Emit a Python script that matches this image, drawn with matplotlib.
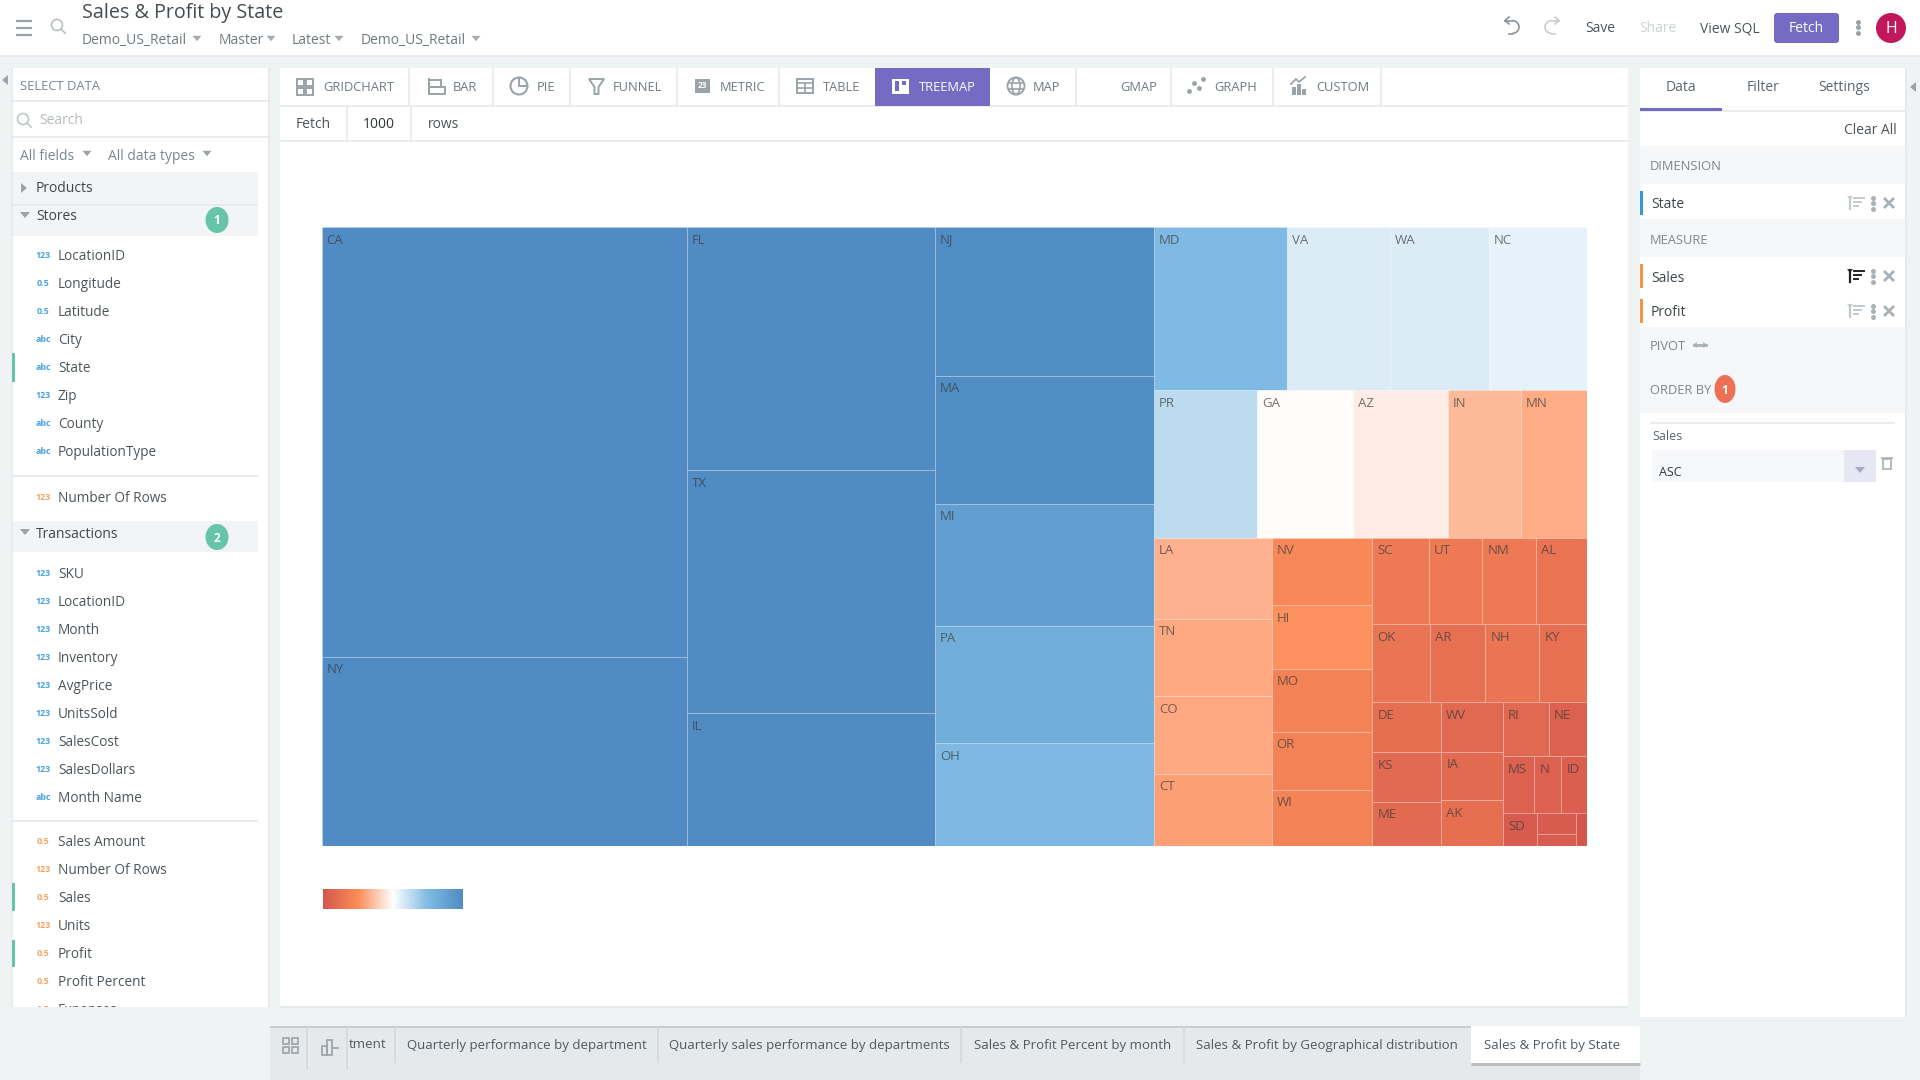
"""Sales & Profit by State treemap, inside the BI tool's chart builder screen."""

import matplotlib

matplotlib.use("Agg")
import matplotlib.pyplot as plt
import numpy as np
from matplotlib.colors import LinearSegmentedColormap, Normalize
from matplotlib.patches import Arc, Circle, Ellipse, FancyBboxPatch, Polygon, Rectangle

plt.rcParams.update({
    "font.family": ["Open Sans", "DejaVu Sans"],
    "font.size": 10,
})

# Treemap data: sales sets the area, profit the colour. Last three states have no visible label.
STATES = ["CA", "NY", "FL", "TX", "IL", "NJ", "MA", "MI", "PA", "OH",
          "MD", "VA", "WA", "NC", "PR", "GA", "AZ", "IN", "MN",
          "LA", "TN", "CO", "CT", "NV", "HI", "MO", "OR", "WI",
          "SC", "UT", "NM", "AL", "OK", "AR", "NH", "KY",
          "DE", "KS", "ME", "WV", "IA", "AK", "RI", "NE", "MS", "N", "ID", "SD",
          "_a", "_b", "_c"]
SALES = [1568.4, 692.4, 603.4, 604.1, 330.5, 326.3, 280.3, 267.2, 256.9, 225.8,
         217.3, 167.4, 161.4, 159.3, 151.9, 141.6, 140.1, 107.7, 96.9,
         95.7, 91.2, 91.2, 85.4, 67.9, 63.9, 63.5, 58.3, 57.1,
         49.4, 46.0, 46.3, 44.2, 45.4, 43.1, 42.3, 37.1,
         34.4, 34.0, 30.9, 30.4, 30.3, 28.5, 24.8, 20.2, 17.6, 15.3, 14.4, 11.3,
         8.0, 5.0, 3.5]
PROFIT = [100, 100, 100, 100, 100, 99, 99, 90, 82, 76,
          75, 57, 57, 55, 63, 49, 46, 35, 32,
          33, 31, 31, 29, 23, 26, 20, 20, 20,
          16, 16, 16, 13, 14, 12, 14, 12,
          11, 9, 9, 8, 9, 11, 8, 5, 5, 5, 4, 2,
          2, 2, 0]

# how the squarified layout nested the states; each level flips the split direction
TREE = [["CA", "NY"], ["FL", "TX", "IL"], ["NJ", "MA", "MI", "PA", "OH"],
        [["MD", "VA", "WA", "NC"], ["PR", "GA", "AZ", "IN", "MN"],
         [["LA", "TN", "CO", "CT"], ["NV", "HI", "MO", "OR", "WI"],
          [["SC", "UT", "NM", "AL"], ["OK", "AR", "NH", "KY"],
           [["DE", "KS", "ME"], ["WV", "IA", "AK"],
            [["RI", "NE"], ["MS", "N", "ID"], ["SD", ["_a", "_b"], "_c"]]]]]]]

# UI text
BREADCRUMBS = ["Demo_US_Retail", "Master", "Latest", "Demo_US_Retail"]
CHART_TYPES = ["GRIDCHART", "BAR", "PIE", "FUNNEL", "METRIC", "TABLE", "TREEMAP", "MAP", "GMAP", "GRAPH", "CUSTOM"]
STORE_FIELDS = ["LocationID", "Longitude", "Latitude", "City", "State", "Zip", "County", "PopulationType"]
STORE_KINDS = ["123", "0.5", "0.5", "abc", "abc", "123", "abc", "abc"]
TRANS_FIELDS = ["SKU", "LocationID", "Month", "Inventory", "AvgPrice", "UnitsSold", "SalesCost", "SalesDollars", "Month Name"]
TRANS_KINDS = ["123"] * 8 + ["abc"]
MEASURE_FIELDS = ["Sales Amount", "Number Of Rows", "Sales", "Units", "Profit", "Profit Percent", "Expenses"]
MEASURE_KINDS = ["0.5", "123", "0.5", "123", "0.5", "0.5", "0.5"]
TABS = ["tment", "Quarterly performance by department", "Quarterly sales performance by departments",
        "Sales & Profit Percent by month", "Sales & Profit by Geographical distribution", "Sales & Profit by State"]

BG = "#f0f3f4"
LINE = "#e6e9ea"
INK = "#4d5559"
GREY = "#7b878c"
ICON = "#9aa3a7"
BLUE = "#4aa3df"
ORANGE = "#f7a25e"
GREEN = "#66c4a8"
PURPLE = "#766bc4"

fig = plt.figure(figsize=(19.2, 10.8), dpi=100, facecolor=BG)
ui = fig.add_axes([0, 0, 1, 1])
ui.set_xlim(0, 1920)
ui.set_ylim(1080, 0)
ui.axis("off")


def box(x0, y0, x1, y1, color, z=1):
    ui.add_patch(Rectangle((x0, y0), x1 - x0, y1 - y0, fc=color, ec="none", zorder=z))


def hline(x0, x1, y, color=LINE, lw=1.2, z=2):
    ui.plot([x0, x1], [y, y], color=color, lw=lw, zorder=z, solid_capstyle="butt")


def vline(x, y0, y1, color=LINE, lw=1.2, z=2):
    ui.plot([x, x], [y0, y1], color=color, lw=lw, zorder=z, solid_capstyle="butt")


def label(x, y, s, size=10, color=INK, ha="left", z=5, **kw):
    # the +2 brings Open Sans onto the same visual centre as the app's font
    ui.text(x, y + 2, s, fontsize=size, color=color, ha=ha, va="center", zorder=z, **kw)


def caret(x, y, size=5, color=ICON, direction="down"):
    if direction == "down":
        pts = [(x - size, y - size * 0.6), (x + size, y - size * 0.6), (x, y + size * 0.6)]
    elif direction == "right":
        pts = [(x - size * 0.6, y - size), (x - size * 0.6, y + size), (x + size * 0.6, y)]
    else:
        pts = [(x + size * 0.6, y - size), (x + size * 0.6, y + size), (x - size * 0.6, y)]
    ui.add_patch(Polygon(pts, fc=color, ec="none", zorder=5))


def magnifier(x, y, r=5.5, color=ICON):
    ui.add_patch(Circle((x, y), r, fc="none", ec=color, lw=1.1, zorder=5))
    ui.plot([x + r * 0.7, x + r * 1.5], [y + r * 0.7, y + r * 1.5], color=color, lw=1.1, zorder=5)


def kebab(x, y, color=ICON, s=3.6):
    ui.scatter([x] * 3, [y - 5.5, y, y + 5.5], s=s ** 2, color=color, zorder=5, linewidths=0)


def field_icon(y, kind, color):
    # small stand-ins for the 123 / 0.5 / abc type glyphs
    label(43, y - 1, kind, size=6.4, color=color, ha="center", fontweight="bold")


def field_rows(names, kinds, y0, color=BLUE):
    for i, (name, kind) in enumerate(zip(names, kinds)):
        y = y0 + i * 28
        field_icon(y, kind, color)
        label(58, y, name, size=9.8, color=INK)


def sort_icon(x, y, color="#c3c9cc"):
    ui.plot([x - 7, x - 7], [y - 6, y + 6], color=color, lw=1.6, zorder=5)
    caret(x - 7, y - 5, size=3, color=color)
    for dy, w in zip((-5, -1, 3), (14, 10, 6)):
        ui.plot([x - 3, x - 3 + w * 0.7], [y + dy, y + dy], color=color, lw=1.4, zorder=5)


def cross(x, y, color="#a9b1b5"):
    ui.plot([x - 4, x + 4], [y - 4, y + 4], color=color, lw=2, zorder=5)
    ui.plot([x - 4, x + 4], [y + 4, y - 4], color=color, lw=2, zorder=5)


def turn_arrow(mirror, color):
    # undo arrow; mirror=True flips it about x=1532 for redo
    fx = (lambda v: 3064 - v) if mirror else (lambda v: v)
    ui.add_patch(Arc((fx(1512), 27), 14, 13, theta1=90 if mirror else -90, theta2=270 if mirror else 90,
                     ec=color, lw=1.2, zorder=5))
    ui.plot([fx(1505), fx(1512)], [20.5, 20.5], color=color, lw=1.2, zorder=5)
    ui.plot([fx(1509), fx(1512)], [33.5, 33.5], color=color, lw=1.2, zorder=5)
    ui.plot([fx(1509), fx(1505), fx(1509)], [17, 20.5, 24], color=color, lw=1.2, zorder=5)


# ------------------------------------------------------------------ panels
box(0, 0, 1920, 55, "white")
hline(0, 1920, 55.5)
box(11, 68, 268, 1007, "white")
box(280, 68, 1628, 1006, "white")
box(1640, 68, 1905, 1017, "white")
vline(268.5, 68, 1007)
vline(1905.5, 68, 1017)
hline(280, 1628, 1006.5)

# ------------------------------------------------------------------ header
for yy in (21, 28, 34.5):
    hline(16, 32, yy, color=ICON, lw=1.6, z=5)
magnifier(57, 25, color="#b4bbbe")
label(82, 11, "Sales & Profit by State", size=14.2, color="#454c50")
for x, s, cx in zip((82, 219, 292, 361), BREADCRUMBS, (197, 271, 339, 476)):
    label(x, 38.5, s, size=10, color="#6e7a80")
    caret(cx, 38.5, size=4.5, color="#a5adb1")

turn_arrow(False, "#8a9297")
turn_arrow(True, "#c8cdd0")

label(1585, 27, "Save", size=10)
label(1639, 27, "Share", size=10, color="#ced3d6")
label(1700, 27, "View SQL", size=10)
ui.add_patch(FancyBboxPatch((1776, 15), 61, 26, boxstyle="round,pad=2,rounding_size=3", fc=PURPLE, ec="none", zorder=3))
label(1806, 27, "Fetch", size=10, color="white", ha="center")
kebab(1858, 27)
ui.add_patch(Circle((1891, 28), 15, fc="#c2185b", ec="none", zorder=3))
label(1891, 27, "H", size=11.5, color="white", ha="center")

# ------------------------------------------------------------------ left panel
caret(5, 80, size=5, color=ICON, direction="left")
label(20, 85, "SELECT DATA", size=9.4, color=GREY)
hline(11, 268, 101)
magnifier(23, 119, color="#bcc3c6")
label(39, 119, "Search", size=10, color="#b5bcbf")
hline(11, 268, 137)
label(20, 154, "All fields", size=10, color=GREY)
caret(87, 153.5, size=4.5)
label(108, 154, "All data types", size=10, color=GREY)
caret(207, 153.5, size=4.5)

box(11, 172, 258, 236, "#f2f4f5")
hline(11, 258, 204.5, color="#e6e9ea")
caret(24, 188, size=5, direction="right")
label(36, 187, "Products", size=10, color="#3f464a")
caret(25, 215, size=5)
label(36, 215, "Stores", size=10, color="#3f464a")
field_rows(STORE_FIELDS, STORE_KINDS, 255)
hline(12, 258, 476)
field_icon(496, "123", ORANGE)
label(58, 496, "Number Of Rows", size=9.8)
box(12, 521, 258, 552, "#f2f4f5")
caret(25, 532, size=5)
label(36, 532, "Transactions", size=10, color="#3f464a")
field_rows(TRANS_FIELDS, TRANS_KINDS, 572)
hline(12, 258, 821)
field_rows(MEASURE_FIELDS, MEASURE_KINDS, 841, color=ORANGE)
vline(12, 68, 1007, color=LINE)
for cy, s in zip((220, 537), "12"):
    ui.add_patch(Ellipse((217, cy), 23, 26, fc=GREEN, ec="none", zorder=4))
    label(217, cy - 1, s, size=8.5, color="white", ha="center", fontweight="bold")
for y0, y1 in ((353, 382), (883, 911), (940, 967)):
    box(12, y0, 15, y1, GREEN, z=4)
box(0, 1007, 270, 1080, BG, z=8)

# ------------------------------------------------------------------ chart toolbar
hline(280, 1628, 106)
hline(280, 1628, 141)
for x in (409, 493, 570, 677, 779, 1076, 1171, 1273, 1381):
    vline(x, 68, 106)
for x in (346.5, 411):
    vline(x, 106, 141)
box(875, 68, 990, 106, PURPLE, z=3)
for x, s in zip((323, 453, 537, 613, 720, 823, 919, 1033, 1120, 1214, 1316), CHART_TYPES):
    label(x, 85.5, s, size=9.3, color="white" if s == "TREEMAP" else "#6f7b80")
label(296, 123, "Fetch", size=10)
label(363, 123, "1000", size=10, color="#2f3538")
label(428, 123, "rows", size=10)

# toolbar icons
for dx in (-8, 1):
    for dy in (-7, 2):
        ui.add_patch(Rectangle((305 + dx, 86 + dy), 7, 7, fc="none", ec=ICON, lw=1.4, zorder=5))
for yy, w in ((80, 12), (87, 16)):
    ui.add_patch(Rectangle((429, yy), w, 7, fc="none", ec=ICON, lw=1.4, zorder=5))
vline(429, 78, 95, color=ICON, lw=1.4, z=5)
ui.add_patch(Circle((519, 86), 8.5, fc="none", ec=ICON, lw=1.5, zorder=5))
ui.plot([519, 519, 527], [78, 86, 86], color=ICON, lw=1.4, zorder=5)
ui.add_patch(Polygon([(589, 79), (604, 79), (598.5, 87), (598.5, 94), (594.5, 94), (594.5, 87)], fc="none", ec=ICON, lw=1.4, zorder=5))
box(695, 79, 710, 93, ICON, z=5)
label(702.5, 84, "23", size=6, color="white", ha="center", z=6, fontweight="bold")
ui.add_patch(Rectangle((797, 79), 16, 14, fc="none", ec=ICON, lw=1.4, zorder=5))
hline(797, 813, 83, color=ICON, z=5)
hline(797, 813, 88, color=ICON, z=5)
vline(805, 83, 93, color=ICON, z=5)
box(892, 79, 909, 94, "white", z=5)
box(895, 81, 899, 91, PURPLE, z=6)
box(902, 81, 906, 85, PURPLE, z=6)
ui.add_patch(Circle((1016, 86), 8.5, fc="none", ec=ICON, lw=1.4, zorder=5))
ui.add_patch(Ellipse((1016, 86), 8, 17, fc="none", ec=ICON, lw=1.2, zorder=5))
hline(1008, 1024, 83, color=ICON, z=5)
hline(1008, 1024, 89, color=ICON, z=5)
ui.scatter([1189, 1194, 1199, 1203], [91, 83, 88, 79], s=12, color=ICON, linewidths=0, zorder=5)
ui.plot([1291, 1296, 1299, 1305], [84, 79, 82, 77], color=ICON, lw=1.3, zorder=5)
for x, h in zip((1292, 1297, 1302), (8, 11, 6)):
    box(x, 95 - h, x + 3.5, 95, ICON, z=5)

# ------------------------------------------------------------------ right panel
for x, s in zip((1681, 1763, 1844), ("Data", "Filter", "Settings")):
    label(x, 85.5, s, size=10, color="#5c666b", ha="center")
hline(1640, 1905, 111)
box(1640, 108, 1722, 111, PURPLE, z=3)
caret(1913, 87, size=5, direction="left")
label(1897, 128, "Clear All", size=10, ha="right")
box(1640, 146, 1905, 184, "#f5f7f8")
box(1640, 219, 1905, 257, "#f5f7f8")
box(1640, 327, 1905, 413, "#f5f7f8")
label(1650, 165, "DIMENSION", size=9.3, color=GREY)
label(1650, 238, "MEASURE", size=9.3, color=GREY)
label(1650, 345, "PIVOT", size=9.3, color=GREY)
label(1650, 389, "ORDER BY", size=9.3, color=GREY)
ui.plot([1694, 1706], [345, 345], color="#a9b1b5", lw=2, zorder=5)
caret(1695, 345, size=3, color="#a9b1b5", direction="left")
caret(1705, 345, size=3, color="#a9b1b5", direction="right")
ui.add_patch(Ellipse((1725, 389), 21, 28, fc="#ec6f56", ec="none", zorder=4))
label(1725, 388, "1", size=8.5, color="white", ha="center", fontweight="bold")

for y, s, bar, sort_col in ((203, "State", "#3498db", "#c3c9cc"), (276, "Sales", "#f0954a", "#222222"),
                            (311, "Profit", "#f0954a", "#c3c9cc")):
    box(1640, y - 12, 1643, y + 12, bar, z=4)
    label(1651, y, s, size=10, color="#3f464a")
    sort_icon(1857, y, color=sort_col)
    kebab(1873, y, color="#a9b1b5")
    cross(1889, y)

hline(1650, 1895, 423)
label(1652, 435, "Sales", size=9, color="#5c666b")
box(1652, 450, 1876, 482, "#f7f8fc")
box(1844, 450, 1876, 482, "#e6e7f2", z=2)
caret(1860, 470, size=5, color="#a7a8c4")
label(1659, 470, "ASC", size=9, color="#2f3538")
ui.add_patch(Rectangle((1883, 459), 8, 10, fc="none", ec="#a9b1b5", lw=1.2, zorder=5))
hline(1881, 1893, 458, color="#a9b1b5", z=5)

# ------------------------------------------------------------------ bottom tabs
box(270, 1026, 1640, 1080, "#e6e9ec", z=1)
hline(270, 1640, 1026.5, color="#c9cdcf", lw=1.4)
box(1471, 1026, 1640, 1063, "white", z=2)
hline(1471, 1640, 1064, color="#b9bdbf", lw=2)
for x in (307, 347):
    vline(x, 1026, 1070, color="#d5d9db")
for x in (395, 658, 961, 1184):
    vline(x, 1026, 1063, color="#d5d9db")
for x, s in zip((349, 407, 669, 974, 1196, 1484), TABS):
    label(x, 1043, s, size=9.56, color="#4f5a60")
for dx in (0, 9):
    for dy in (0, 9):
        ui.add_patch(Rectangle((283 + dx, 1038 + dy), 6, 6, fc="none", ec=ICON, lw=1.2, zorder=5))
ui.add_patch(Rectangle((322, 1046), 5, 9, fc="none", ec=ICON, lw=1.2, zorder=5))
ui.add_patch(Rectangle((327, 1040), 5, 15, fc="none", ec=ICON, lw=1.2, zorder=5))
hline(332, 339, 1048, color=ICON, z=5)

# ------------------------------------------------------------------ treemap
cmap = LinearSegmentedColormap.from_list("sales_profit", [
    (0.0, "#d4574d"), (0.25, "#fc8d59"), (0.5, "#ffffff"), (0.75, "#7fbbe3"), (1.0, "#508bc4")])
norm = Normalize(min(PROFIT), max(PROFIT))
sales_of = dict(zip(STATES, SALES))
profit_of = dict(zip(STATES, PROFIT))


def weight(node):
    return sales_of[node] if isinstance(node, str) else sum(weight(n) for n in node)


def draw_tree(ax, node, x0, y0, x1, y1, across=True):
    if isinstance(node, str):
        ax.add_patch(Rectangle((x0, y0), x1 - x0, y1 - y0, fc=cmap(norm(profit_of[node])),
                               ec=(1, 1, 1, 0.17), lw=0.75))
        if not node.startswith("_"):
            ax.annotate(node, (x0, y0), xytext=(5, -13), textcoords="offset pixels",
                        fontsize=9.5, color="#3a3a3a", alpha=0.7, va="center")
        return
    total = weight(node)
    pos = x0 if across else y0
    for child in node:
        step = weight(child) / total * ((x1 - x0) if across else (y1 - y0))
        if across:
            draw_tree(ax, child, pos, y0, pos + step, y1, False)
        else:
            draw_tree(ax, child, x0, pos, x1, pos + step, True)
        pos += step


tm = fig.add_axes([321.7 / 1920, 1 - 846.4 / 1080, 1265 / 1920, 619.4 / 1080])
tm.set_xlim(0, 1)
tm.set_ylim(1, 0)
tm.axis("off")
draw_tree(tm, TREE, 0, 0, 1, 1)

# gradient legend
lg = fig.add_axes([323 / 1920, 1 - 909 / 1080, 140 / 1920, 20 / 1080])
lg.imshow(np.linspace(0, 1, 256)[None, :], cmap=cmap, aspect="auto")
lg.axis("off")

fig.savefig("out.png", dpi=100, facecolor=BG)
